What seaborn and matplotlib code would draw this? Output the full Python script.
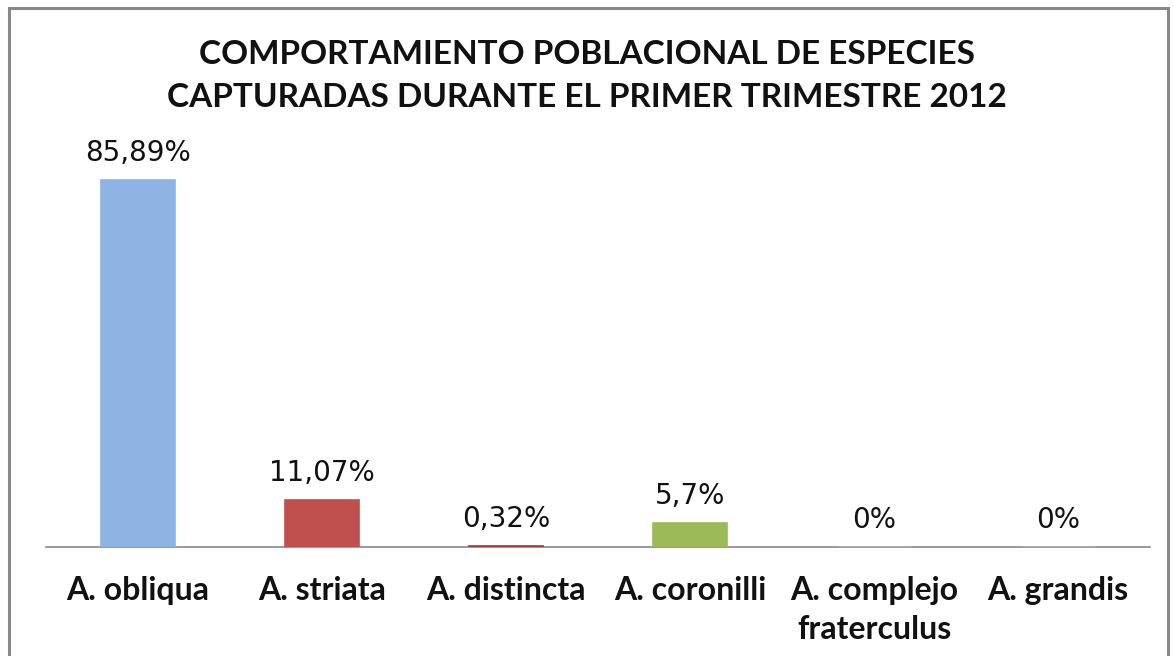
import matplotlib
matplotlib.use("Agg")
import matplotlib.pyplot as plt
import seaborn as sns
import pandas as pd
from matplotlib.patches import Rectangle

categories = ["A. obliqua", "A. striata", "A. distincta", "A. coronilli",
              "A. complejo\nfraterculus", "A. grandis"]
values = [85.89, 11.07, 0.32, 5.7, 0.0, 0.0]
value_labels = ["85,89%", "11,07%", "0,32%", "5,7%", "0%", "0%"]
colors = ["#8EB4E3", "#C0504D", "#A33B38", "#9BBB59", "#4F81BD", "#F79646"]
title = "COMPORTAMIENTO POBLACIONAL DE ESPECIES\nCAPTURADAS DURANTE EL PRIMER TRIMESTRE 2012"

sns.set_theme(style="white")
plt.rcParams['font.family'] = ['Lato', 'DejaVu Sans']

df = pd.DataFrame({"cat": categories, "val": values})

fig = plt.figure(figsize=(11.74, 6.56), dpi=100)
ax = fig.add_axes([46/1174, 109/656, 1104/1174, (547-119.7)/656])

sns.barplot(data=df, x="cat", y="val", hue="cat", palette=colors, legend=False,
            width=0.40, ax=ax, saturation=1)
for bar in ax.patches:
    if bar.get_height() > 0:
        bar.set_edgecolor(bar.get_facecolor())
        bar.set_linewidth(1.2)

ax.set_xlim(-0.5, 5.5)
ax.set_ylim(0, 100)
ax.set_xlabel("")
ax.set_ylabel("")
ax.set_yticks([])
for s in ["top", "right", "left"]:
    ax.spines[s].set_visible(False)
ax.spines["bottom"].set_color("#888888")
ax.spines["bottom"].set_linewidth(1.2)
ax.spines["bottom"].set_zorder(0)
ax.tick_params(axis="x", length=0, pad=21)
for lab in ax.get_xticklabels():
    lab.set_fontsize(23)
    lab.set_fontweight("bold")
    lab.set_color("#111111")
    lab.set_linespacing(1.4)
    lab.set_verticalalignment("top")

for i, (v, t) in enumerate(zip(values, value_labels)):
    ax.annotate(t, (i, v), xytext=(0, 9), textcoords="offset points",
                ha="center", va="bottom", fontsize=20, color="#111111",
                family=["DejaVu Sans"])

fig.text(0.5, 1 - 76/656, title, ha="center", va="center", fontsize=24,
         fontweight="bold", color="#111111", linespacing=1.6)

fig.patches.append(Rectangle((9/1174, -0.01), (1168-9)/1174, (656-8)/656 + 0.01,
                             transform=fig.transFigure, fill=False,
                             edgecolor="#888888", linewidth=2.2))

fig.savefig("out.png", dpi=100)
